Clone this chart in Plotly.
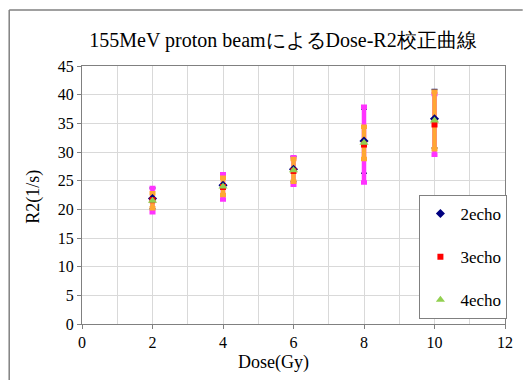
import plotly.graph_objects as go

dose = [2, 4, 6, 8, 10]
r2_2echo = [21.9, 24.2, 27.0, 31.9, 35.8]
r2_3echo = [21.6, 23.9, 26.7, 31.3, 34.8]
r2_4echo = [21.5, 24.0, 26.8, 31.6, 35.5]
err_2echo = [1.8, 1.9, 2.2, 5.6, 5.1]
err_3echo = [2.1, 2.2, 2.4, 6.6, 5.3]
err_4echo = [1.3, 1.5, 2.0, 2.8, 5.0]

FONT = "Liberation Serif"
L, R, T, B = 82, 13, 66, 56
W, H = 525, 380
pw, ph = W - L - R, H - T - B

fig = go.Figure()

# error bars first (drawn beneath markers)
for vals, err, col, th, wd in [
    (r2_2echo, err_2echo, "#1f1f7a", 1.5, 3),
    (r2_3echo, err_3echo, "#ff33ff", 4.5, 3),
    (r2_4echo, err_4echo, "#ffa733", 4.5, 3),
]:
    fig.add_trace(go.Scatter(
        x=dose, y=vals, mode="markers",
        marker=dict(size=1, color="rgba(0,0,0,0)"),
        error_y=dict(type="data", array=err, color=col, thickness=th, width=wd),
        showlegend=False, hoverinfo="skip"))

fig.add_trace(go.Scatter(x=dose, y=r2_2echo, mode="markers", name="2echo",
                         legendgroup="a",
                         marker=dict(symbol="diamond", size=7, color="#000080")))
fig.add_trace(go.Scatter(x=dose, y=r2_3echo, mode="markers", name="3echo",
                         legendgroup="b",
                         marker=dict(symbol="square", size=6, color="#ff0000")))
fig.add_trace(go.Scatter(x=dose, y=r2_4echo, mode="markers", name="4echo",
                         legendgroup="c",
                         marker=dict(symbol="triangle-up", size=8, color="#92d050")))

axis_common = dict(
    showline=True, linecolor="#808080", linewidth=1, mirror=True,
    gridcolor="#d9d9d9", gridwidth=1, zeroline=False,
    ticks="outside", ticklen=4, tickcolor="#808080",
    tickfont=dict(family=FONT, size=16, color="#000000"),
)

fig.update_layout(
    width=W, height=H,
    margin=dict(l=L, r=R, t=T, b=B),
    paper_bgcolor="white", plot_bgcolor="white",
    font=dict(family=FONT, color="#000000"),
    title=dict(text="155MeV proton beamによるDose-R2校正曲線",
               font=dict(family=FONT, size=20, color="#000000"),
               x=283 / W, xanchor="center", xref="container",
               y=1 - 40 / H, yanchor="middle", yref="container"),
    xaxis=dict(range=[0, 12], dtick=2, tick0=0,
               minor=dict(dtick=1, showgrid=True, gridcolor="#d9d9d9", ticks=""),
               **axis_common),
    yaxis=dict(range=[0, 45], dtick=5, tick0=0, **axis_common),
    legend=dict(x=(425 - L) / pw, y=1 - (195 - T) / ph, xanchor="left", yanchor="top",
                bordercolor="#808080", borderwidth=1, bgcolor="white",
                font=dict(family=FONT, size=17, color="#000000"),
                tracegroupgap=18, itemwidth=30),
    annotations=[
        dict(text="R2(1/s)", textangle=-90, xref="paper", yref="paper",
             x=(32 - L) / pw, y=1 - (197 - T) / ph, xanchor="center", yanchor="middle",
             showarrow=False, font=dict(family=FONT, size=18, color="#000000")),
        dict(text="Dose(Gy)", xref="paper", yref="paper",
             x=(277 - L) / pw, y=-(362 - (H - B)) / ph, xanchor="center", yanchor="middle",
             showarrow=False, font=dict(family=FONT, size=18, color="#000000")),
    ],
    shapes=[
        dict(type="line", xref="paper", yref="paper",
             x0=(8 - L) / pw, x1=(W + 5 - L) / pw,
             y0=1 + (T - 10) / ph, y1=1 + (T - 10) / ph,
             line=dict(color="#808080", width=1.5)),
        dict(type="line", xref="paper", yref="paper",
             x0=(8 - L) / pw, x1=(8 - L) / pw,
             y0=1 + (T - 10) / ph, y1=-(H + 5 - (H - B)) / ph,
             line=dict(color="#808080", width=1.5)),
    ],
)

fig.write_html("out.html", config={"displayModeBar": False},
               post_script="document.body.style.margin='0';")
